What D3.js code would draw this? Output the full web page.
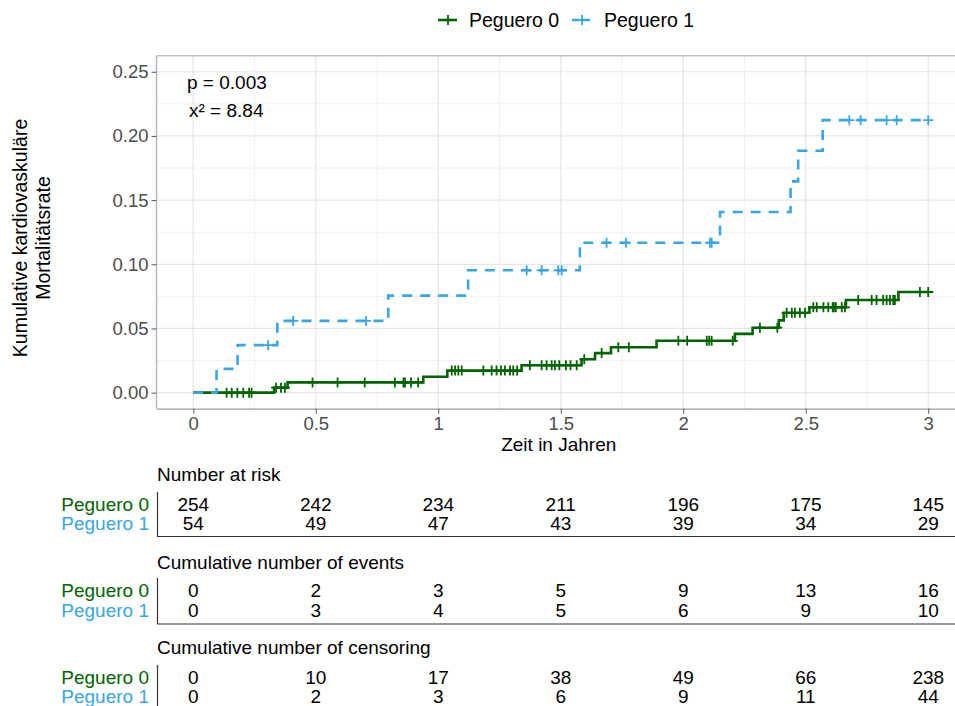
<!DOCTYPE html>
<html>
<head>
<meta charset="utf-8">
<script src="https://cdn.jsdelivr.net/npm/d3@7"></script>
<style>
  body { margin: 0; background: #fff; }
  svg { display: block; }
  text { font-family: "Liberation Sans", Arial, Helvetica, sans-serif; }
</style>
</head>
<body>
<svg id="chart" width="955" height="706"></svg>
<script>
// ---- data ----
const groups = ["Peguero 0", "Peguero 1"];
const groupColors = ["#006400", "#38a6e4"];
const timeTicks = [0, 0.5, 1, 1.5, 2, 2.5, 3];
const yTicks = [0, 0.05, 0.10, 0.15, 0.20, 0.25];
const endTime = 3;

// Peguero 0: event times and cumulative mortality after each event
const stepTimes0 = [0.33, 0.385, 0.939, 1.037, 1.340, 1.585, 1.64, 1.705, 1.891, 2.211, 2.283, 2.39, 2.41, 2.515, 2.664, 2.878];
const stepRates0 = [0.0039, 0.0080, 0.0124, 0.0172, 0.0213, 0.0260, 0.0308, 0.0354, 0.0404, 0.0458, 0.0506, 0.0563, 0.0622, 0.0665, 0.0722, 0.0784];
const censorTimes0 = [0.136, 0.157, 0.18, 0.204, 0.228, 0.238, 0.338, 0.358, 0.374, 0.487,
  0.589, 0.70, 0.823, 0.858, 0.864, 0.889, 0.918, 1.055, 1.069, 1.082, 1.096, 1.184, 1.218,
  1.238, 1.256, 1.272, 1.293, 1.306, 1.322, 1.374, 1.422, 1.442, 1.463, 1.476, 1.494, 1.521,
  1.540, 1.565, 1.596, 1.667, 1.735, 1.778, 1.98, 2.016, 2.096, 2.106, 2.116, 2.202, 2.313,
  2.384, 2.422, 2.443, 2.456, 2.476, 2.497, 2.531, 2.545, 2.572, 2.592, 2.61, 2.615, 2.623,
  2.647, 2.66, 2.714, 2.769, 2.789, 2.816, 2.83, 2.844, 2.857, 2.864, 2.966, 3.0];

// Peguero 1
const stepTimes1 = [0.095, 0.181, 0.343, 0.796, 1.122, 1.578, 2.15, 2.438, 2.469, 2.569];
const stepRates1 = [0.0185, 0.0370, 0.0559, 0.0756, 0.0953, 0.1168, 0.1407, 0.1646, 0.1884, 0.2123];
const censorTimes1 = [0.306, 0.408, 0.705, 1.361, 1.422, 1.49, 1.504, 1.687, 1.766, 2.109, 2.116,
  2.678, 2.724, 2.83, 2.871, 3.0];

// risk tables at timeTicks
const atRisk0 = [254, 242, 234, 211, 196, 175, 145];
const atRisk1 = [54, 49, 47, 43, 39, 34, 29];
const events0 = [0, 2, 3, 5, 9, 13, 16];
const events1 = [0, 3, 4, 5, 6, 9, 10];
const censored0 = [0, 10, 17, 38, 49, 66, 238];
const censored1 = [0, 2, 3, 6, 9, 11, 44];

const tableTitles = ["Number at risk", "Cumulative number of events", "Cumulative number of censoring"];
const pValueLabel = "p = 0.003";
const chiLabel = "x\u00B2 = 8.84";
const xTitle = "Zeit in Jahren";
const yTitleLines = ["Kumulative kardiovaskul\u00E4re", "Mortalit\u00E4tsrate"];

// ---- layout ----
const svg = d3.select("#chart");
const panel = { left: 156.5, right: 965, top: 55.7, bottom: 408.7 };
const x = d3.scaleLinear().domain([-0.15, 3.15]).range([panel.left, panel.right]);
const y = d3.scaleLinear().domain([-0.0125, 0.2625]).range([panel.bottom, panel.top]);

const tickGrey = "#4d4d4d";

// grid
const g = svg.append("g");
const minorX = d3.range(0.25, 3, 0.5);
const minorY = d3.range(0.025, 0.25, 0.05);
g.selectAll(".gx-minor").data(minorX).join("line")
  .attr("x1", d => x(d)).attr("x2", d => x(d))
  .attr("y1", panel.top).attr("y2", panel.bottom)
  .attr("stroke", "#f0f0f0").attr("stroke-width", 1);
g.selectAll(".gy-minor").data(minorY).join("line")
  .attr("x1", panel.left).attr("x2", panel.right)
  .attr("y1", d => y(d)).attr("y2", d => y(d))
  .attr("stroke", "#f0f0f0").attr("stroke-width", 1);
g.selectAll(".gx").data(timeTicks).join("line")
  .attr("x1", d => x(d)).attr("x2", d => x(d))
  .attr("y1", panel.top).attr("y2", panel.bottom)
  .attr("stroke", "#e6e6e6").attr("stroke-width", 1.2);
g.selectAll(".gy").data(yTicks).join("line")
  .attr("x1", panel.left).attr("x2", panel.right)
  .attr("y1", d => y(d)).attr("y2", d => y(d))
  .attr("stroke", "#e6e6e6").attr("stroke-width", 1.2);

// panel border
svg.append("line").attr("x1", panel.left).attr("x2", panel.right)
  .attr("y1", panel.top).attr("y2", panel.top)
  .attr("stroke", "#c4c4c4").attr("stroke-width", 1.5);
svg.append("line").attr("x1", panel.left).attr("x2", panel.left)
  .attr("y1", panel.top).attr("y2", panel.bottom)
  .attr("stroke", "#b8b8b8").attr("stroke-width", 1.5);

// axes
const xAxis = d3.axisBottom(x).tickValues(timeTicks).tickFormat(d3.format("~g"))
  .tickSizeInner(5).tickSizeOuter(0).tickPadding(3);
const yAxis = d3.axisLeft(y).tickValues(yTicks).tickFormat(d3.format(".2f"))
  .tickSizeInner(5).tickSizeOuter(0).tickPadding(3);

const gx = svg.append("g").attr("transform", `translate(0,${panel.bottom})`).call(xAxis);
gx.select(".domain").attr("stroke", "#9a9a9a").attr("stroke-width", 1.3);
gx.selectAll(".tick line").attr("stroke", "#555");
gx.selectAll(".tick text").attr("fill", tickGrey).attr("font-size", 18.5)
  .attr("font-family", "Liberation Sans, Arial, sans-serif");

const gy = svg.append("g").attr("transform", `translate(${panel.left},0)`).call(yAxis);
gy.select(".domain").remove();
gy.selectAll(".tick line").attr("stroke", "#555");
gy.selectAll(".tick text").attr("fill", tickGrey).attr("font-size", 18.5)
  .attr("font-family", "Liberation Sans, Arial, sans-serif");

// axis titles
svg.append("text").attr("x", (panel.left + panel.right) / 2 - 2).attr("y", 444).attr("dy", "0.35em")
  .attr("text-anchor", "middle").attr("font-size", 19).attr("fill", "#000").text(xTitle);
const yt = svg.append("text").attr("transform", "translate(20,238) rotate(-90)")
  .attr("text-anchor", "middle").attr("font-size", 19.5).attr("fill", "#000");
yTitleLines.forEach((l, i) => {
  yt.append("tspan").attr("x", 0).attr("y", i * 23).attr("dy", "0.35em").text(l);
});

// ---- survival curves ----
const curves = [
  { times: stepTimes0, rates: stepRates0, censor: censorTimes0, color: groupColors[0], dash: null },
  { times: stepTimes1, rates: stepRates1, censor: censorTimes1, color: groupColors[1], dash: "10,8" }
];
const line = d3.line().x(d => x(d[0])).y(d => y(d[1])).curve(d3.curveStepAfter);
const crossPath = "M-5,0H5M0,-5V5";

curves.forEach(c => {
  const pts = [[0, 0]].concat(c.times.map((t, i) => [t, c.rates[i]]));
  pts.push([endTime, c.rates[c.rates.length - 1]]);
  const gc = svg.append("g");
  gc.append("path").attr("d", line(pts)).attr("fill", "none")
    .attr("stroke", c.color).attr("stroke-width", 2.6)
    .attr("stroke-dasharray", c.dash);
  gc.selectAll("path.cens").data(c.censor).join("path").attr("class", "cens")
    .attr("d", crossPath)
    .attr("transform", t => {
      const i = d3.bisectRight(c.times, t);
      const v = i === 0 ? 0 : c.rates[i - 1];
      return `translate(${x(t)},${y(v)})`;
    })
    .attr("fill", "none").attr("stroke", c.color).attr("stroke-width", 1.8);
});

// annotation
svg.append("text").attr("x", 187).attr("y", 82).attr("dy", "0.35em")
  .attr("font-size", 19).attr("fill", "#000").text(pValueLabel);
svg.append("text").attr("x", 189).attr("y", 110).attr("dy", "0.35em")
  .attr("font-size", 19).attr("fill", "#000").text(chiLabel);

// ---- legend ----
const legend = svg.append("g");
const legendItems = [
  { x1: 438, x2: 457, cx: 448, tx: 469, color: groupColors[0], dash: null },
  { x1: 572, x2: 594, cx: 582, tx: 604, color: groupColors[1], dash: "7,4" }
];
legendItems.forEach((it, i) => {
  legend.append("line").attr("x1", it.x1).attr("x2", it.x2).attr("y1", 20).attr("y2", 20)
    .attr("stroke", it.color).attr("stroke-width", 2.6).attr("stroke-dasharray", it.dash);
  legend.append("path").attr("d", crossPath).attr("transform", `translate(${it.cx},20)`)
    .attr("stroke", it.color).attr("stroke-width", 1.8);
  legend.append("text").attr("x", it.tx).attr("y", 20).attr("dy", "0.35em")
    .attr("font-size", 19.5).attr("fill", "#000").text(groups[i]);
});

// ---- tables ----
const tables = [
  { title: tableTitles[0], rows: [atRisk0, atRisk1], titleY: 474, rowY: [504, 523], ruleY: 536.5 },
  { title: tableTitles[1], rows: [events0, events1], titleY: 562, rowY: [590, 610], ruleY: 624 },
  { title: tableTitles[2], rows: [censored0, censored1], titleY: 647, rowY: [677, 696], ruleY: 712 }
];
tables.forEach(tb => {
  const gt = svg.append("g");
  gt.append("text").attr("x", 157).attr("y", tb.titleY).attr("dy", "0.35em")
    .attr("font-size", 19).attr("fill", "#000").text(tb.title);
  gt.append("line").attr("x1", 157.5).attr("x2", 157.5)
    .attr("y1", tb.rowY[0] - 12).attr("y2", tb.ruleY)
    .attr("stroke", "#333").attr("stroke-width", 1.2);
  gt.append("line").attr("x1", 157).attr("x2", 955)
    .attr("y1", tb.ruleY).attr("y2", tb.ruleY)
    .attr("stroke", "#333").attr("stroke-width", 1.2);
  tb.rows.forEach((vals, r) => {
    gt.append("text").attr("x", 149).attr("y", tb.rowY[r]).attr("dy", "0.35em")
      .attr("text-anchor", "end").attr("font-size", 19).attr("fill", groupColors[r])
      .text(groups[r]);
    gt.selectAll(null).data(vals).join("text")
      .attr("x", (d, i) => x(timeTicks[i])).attr("y", tb.rowY[r]).attr("dy", "0.35em")
      .attr("text-anchor", "middle").attr("font-size", 19).attr("fill", "#000")
      .text(d => d);
  });
});
</script>
</body>
</html>
